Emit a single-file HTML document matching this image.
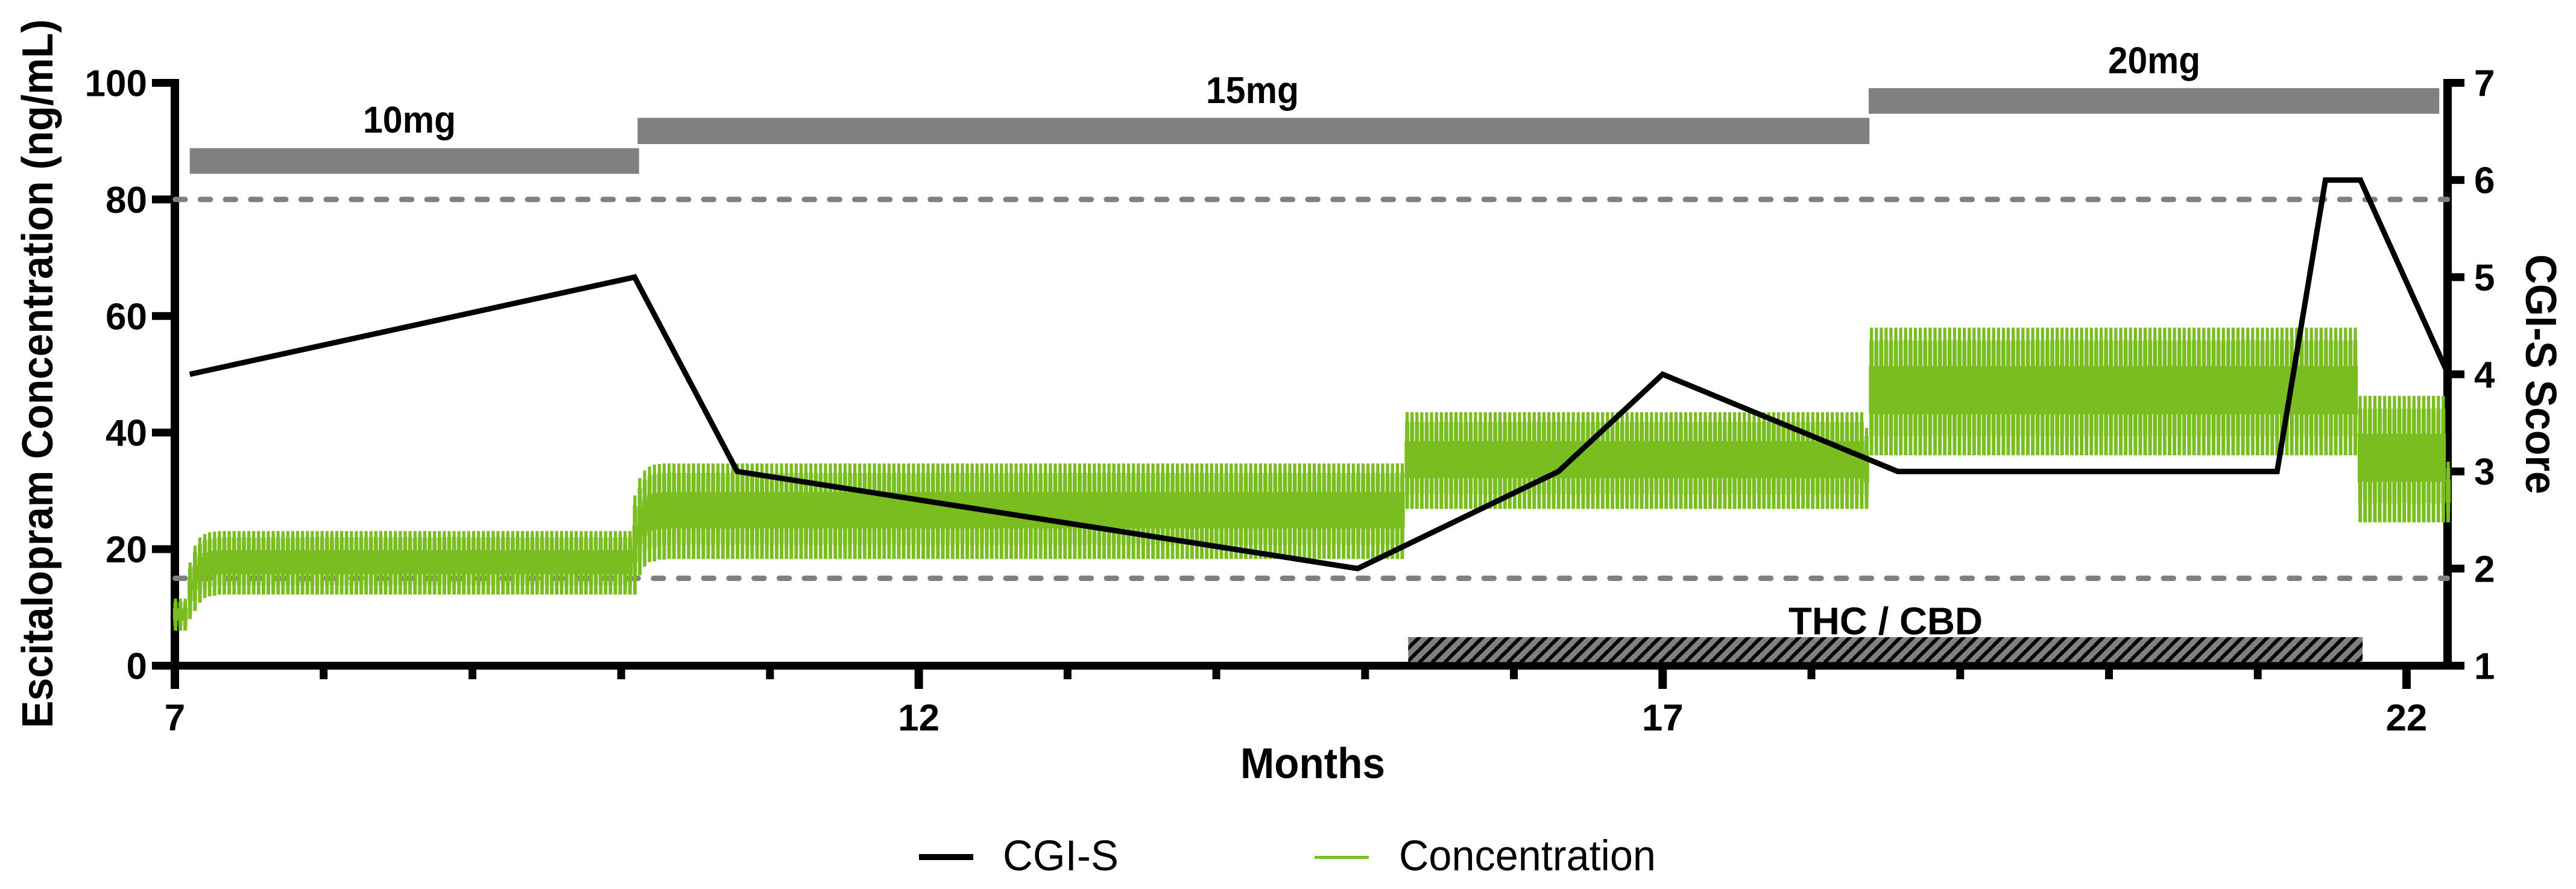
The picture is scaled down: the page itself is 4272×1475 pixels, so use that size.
<!DOCTYPE html>
<html lang="en">
<head>
<meta charset="utf-8">
<title>Escitalopram Concentration and CGI-S Score</title>
<style>
html,body{margin:0;padding:0;background:#fff;}
svg{display:block;}
text{font-family:"Liberation Sans",Arial,sans-serif;fill:#000;}
.b{font-weight:700;}
</style>
</head>
<body>
<svg id="chart" xmlns="http://www.w3.org/2000/svg" width="4272" height="1475" viewBox="0 0 4272 1475">
<defs>
<pattern id="hatch" patternUnits="userSpaceOnUse" x="0" y="0" width="21" height="21">
<rect width="21" height="21" fill="#808080"/>
<path d="M-2 11L11 -2M8 22L22 8" stroke="#000" stroke-width="6" fill="none"/>
</pattern>
</defs>
<g id="axes"></g>
<g id="refs"></g>
<g id="marks"></g>
<g id="bars"></g>
<g id="labels"></g>

<text class="b" font-size="72.7" textLength="1176" lengthAdjust="spacingAndGlyphs" transform="translate(87,1208) rotate(-90)">Escitalopram Concentration (ng/mL)</text>
<text class="b" font-size="72" textLength="398" lengthAdjust="spacingAndGlyphs" transform="translate(4189,422) rotate(90)">CGI-S Score</text>
<text class="b" x="2057" y="1291" font-size="71" textLength="240" lengthAdjust="spacingAndGlyphs">Months</text>

<text class="b" x="602" y="220" font-size="62" textLength="154" lengthAdjust="spacingAndGlyphs">10mg</text>
<text class="b" x="2000" y="171" font-size="62" textLength="154" lengthAdjust="spacingAndGlyphs">15mg</text>
<text class="b" x="3496" y="121.5" font-size="62" textLength="153" lengthAdjust="spacingAndGlyphs">20mg</text>
<text class="b" x="2966" y="1052.5" font-size="64" textLength="322" lengthAdjust="spacingAndGlyphs">THC / CBD</text>

<g>
<line x1="1524" x2="1614" y1="1422" y2="1422" stroke="#000" stroke-width="10"/>
<text x="1663" y="1444" font-size="71" textLength="192" lengthAdjust="spacingAndGlyphs">CGI-S</text>
<line x1="2180" x2="2270" y1="1422.5" y2="1422.5" stroke="#7abd21" stroke-width="5"/>
<text x="2320" y="1444" font-size="71" textLength="426" lengthAdjust="spacingAndGlyphs">Concentration</text>
</g>
</svg>

<script>
// ---- Chart data ----
var xMajorTicks = [7, 12, 17, 22];
var xTickLabels = ["7", "12", "17", "22"];
var xMinorTicks = [8, 9, 10, 11, 13, 14, 15, 16, 18, 19, 20, 21];
var yLeftTicks = [0, 20, 40, 60, 80, 100];
var yLeftLabels = ["0", "20", "40", "60", "80", "100"];
var yRightTicks = [1, 2, 3, 4, 5, 6, 7];
var yRightLabels = ["1", "2", "3", "4", "5", "6", "7"];
var referenceLevels = [80, 15];

var cgiMonths = [7.1, 10.09, 10.78, 14.95, 16.3, 17.0, 18.58, 21.13, 21.455, 21.69, 22.28];
var cgiScores = [4, 5, 3, 2, 3, 4, 3, 3, 6, 6, 4];

var doseNames = ["10mg", "15mg", "20mg"];
var doseStartMonth = [7.1, 10.11, 18.385];
var doseEndMonth = [10.12, 18.39, 22.22];
var doseLowValue = [84.4, 89.5, 94.7];
var doseHighValue = [88.8, 94, 99.1];

var cannabisStartMonth = [15.29];
var cannabisEndMonth = [21.705];
var cannabisLowValue = [0];
var cannabisHighValue = [4.9];

// Daily peak concentration (ng/mL): each level and how many consecutive days it holds
var peakLevels = [11.5, 17.7, 20.6, 22, 22.6, 22.9, 23, 23.1, 29.2, 32.2, 33.5, 34.2, 34.5, 34.6, 34.7, 43.5, 40.8, 58, 46.3, 35];
var peakDays = [3, 1, 1, 1, 1, 1, 1, 85, 1, 1, 1, 1, 1, 1, 152, 94, 1, 100, 18, 1];

// Daily trough concentration (ng/mL): each level and how many consecutive days it holds
var troughLevels = [6, 8, 9.4, 10.8, 11.6, 11.9, 12, 12.2, 15.5, 17, 17.8, 17.9, 18.2, 18.3, 26.9, 36.1, 24.6];
var troughDays = [3, 1, 1, 1, 1, 1, 1, 86, 1, 1, 1, 1, 2, 151, 95, 100, 19];

function expandDaily(levels, days) {
  var out = [];
  for (var n = 0; n < levels.length; n++) {
    for (var m = 0; m < days[n]; m++) { out.push(levels[n]); }
  }
  return out;
}
var concentrationPeak = expandDaily(peakLevels, peakDays);
var concentrationTrough = expandDaily(troughLevels, troughDays);

// ---- Axis functions ----
var DAYS_PER_MONTH = 30.44;
var PX_PER_MONTH = 246.73;
function xScale(month) { return 290 + (month - 7) * PX_PER_MONTH; }
function yLeft(value) { return 1104.5 - value * 9.67; }
function yRight(score) { return 1104.5 - (score - 1) * 161.17; }
function dayToMonth(day) { return 7.004 + day / DAYS_PER_MONTH; }

var NS = 'http://www.w3.org/2000/svg';
function make(tag, parent, attrs) {
  var el = document.createElementNS(NS, tag);
  for (var k in attrs) { el.setAttribute(k, attrs[k]); }
  parent.appendChild(el);
  return el;
}

var axes = document.getElementById('axes');
var refs = document.getElementById('refs');
var marks = document.getElementById('marks');
var bars = document.getElementById('bars');
var labels = document.getElementById('labels');
var el, i;

// Axis lines
el = make('rect', axes, {x: 283, y: 131, width: 14, height: 1012, fill: '#000'});


el = make('rect', axes, {x: 4052, y: 131, width: 14, height: 980, fill: '#000'});


el = make('rect', axes, {x: 283, y: 1098, width: 3783, height: 13, fill: '#000'});



// Left ticks and labels
for (i = 0; i < yLeftTicks.length; i++) {
  el = make('rect', axes, {x: 252, y: yLeft(yLeftTicks[i]) - 6.5, width: 32, height: 13, fill: '#000'});
  
  
  el = make('text', labels, {x: 244, y: yLeft(yLeftTicks[i]) + 22, 'text-anchor': 'end', 'font-size': 62, 'class': 'b'});
  el.textContent = yLeftLabels[i];
  
  
}

// Right ticks and labels
for (i = 0; i < yRightTicks.length; i++) {
  el = make('rect', axes, {x: 4065, y: yRight(yRightTicks[i]) - 6.5, width: 22, height: 13, fill: '#000'});
  
  
  el = make('text', labels, {x: 4103, y: yRight(yRightTicks[i]) + 22, 'font-size': 62, 'class': 'b'});
  el.textContent = yRightLabels[i];
  
  
}

// X ticks
for (i = 0; i < xMajorTicks.length; i++) {
  el = make('rect', axes, {x: xScale(xMajorTicks[i]) - 7, y: 1104, width: 14, height: 39, fill: '#000'});
  
  
  el = make('text', labels, {x: xScale(xMajorTicks[i]), y: 1212, 'text-anchor': 'middle', 'font-size': 62, 'class': 'b'});
  el.textContent = xTickLabels[i];
  
  
}
for (i = 0; i < xMinorTicks.length; i++) {
  el = make('rect', axes, {x: xScale(xMinorTicks[i]) - 6.5, y: 1104, width: 13, height: 23, fill: '#000'});
  
  
}

// Reference lines
for (i = 0; i < referenceLevels.length; i++) {
  el = make('line', refs, {x1: 290.6, x2: 4058.6, y1: yLeft(referenceLevels[i]), y2: yLeft(referenceLevels[i]),
    stroke: '#808080', 'stroke-width': 9, 'stroke-dasharray': '16.5 25.24', 'stroke-linecap': 'round'});
  
  
}

// Concentration series: one tooth per daily peak/trough pair
var d = '';
for (i = 0; i < concentrationPeak.length; i++) {
  var cx = xScale(dayToMonth(i));
  var yP = yLeft(concentrationPeak[i]);
  var yT = yLeft(concentrationTrough[i]);
  var a = yT - yP;
  var pts = [
    [-2.6, yP], [2.6, yP], [2.6, yP + .1 * a], [3.4, yP + .1 * a], [3.4, yP + .3 * a], [4.2, yP + .3 * a],
    [4.2, yP + .68 * a], [3.4, yP + .68 * a], [3.4, yP + .85 * a], [3, yP + .85 * a], [3, yT],
    [-3, yT], [-3, yP + .85 * a], [-3.4, yP + .85 * a], [-3.4, yP + .68 * a], [-4.2, yP + .68 * a],
    [-4.2, yP + .3 * a], [-3.4, yP + .3 * a], [-3.4, yP + .1 * a], [-2.6, yP + .1 * a]
  ];
  for (var j = 0; j < pts.length; j++) {
    d += (j ? 'L' : 'M') + (cx + pts[j][0]).toFixed(1) + ' ' + pts[j][1].toFixed(1);
  }
  d += 'Z';
}
el = make('path', marks, {d: d, fill: '#7abd21'});



// CGI-S line
var cgiPts = [];
for (i = 0; i < cgiMonths.length; i++) {
  cgiPts.push(xScale(cgiMonths[i]).toFixed(1) + ',' + yRight(cgiScores[i]).toFixed(1));
}
el = make('polyline', marks, {points: cgiPts.join(' '), fill: 'none', stroke: '#000', 'stroke-width': 9, 'stroke-linejoin': 'miter'});



// Dose bars
for (i = 0; i < doseNames.length; i++) {
  el = make('rect', bars, {
    x: xScale(doseStartMonth[i]), y: yLeft(doseHighValue[i]),
    width: xScale(doseEndMonth[i]) - xScale(doseStartMonth[i]),
    height: yLeft(doseLowValue[i]) - yLeft(doseHighValue[i]), fill: '#808080'
  });
  
  
}

// THC / CBD hatched bar
for (i = 0; i < cannabisStartMonth.length; i++) {
  el = make('rect', bars, {
    x: xScale(cannabisStartMonth[i]), y: yLeft(cannabisHighValue[i]),
    width: xScale(cannabisEndMonth[i]) - xScale(cannabisStartMonth[i]),
    height: yLeft(cannabisLowValue[i]) - yLeft(cannabisHighValue[i]) - 6, fill: 'url(#hatch)'
  });
  
  
}
</script>
</body>
</html>
